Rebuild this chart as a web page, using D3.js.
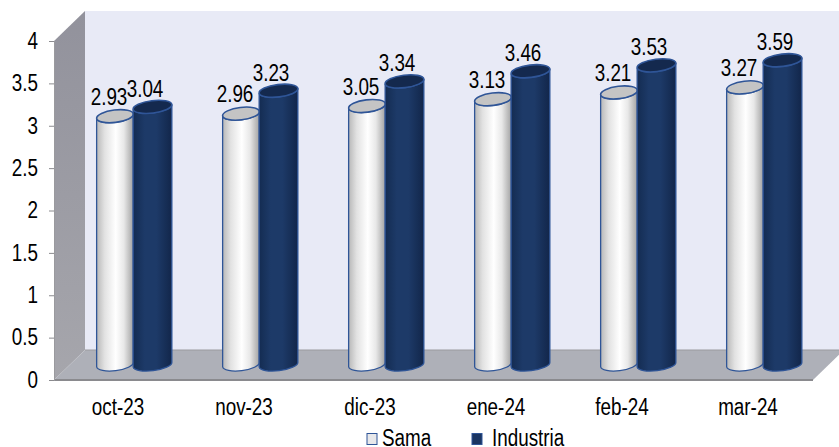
<!DOCTYPE html>
<html>
<head>
<meta charset="utf-8">
<script src="https://cdn.jsdelivr.net/npm/d3@7"></script>
<style>
  html, body { margin: 0; padding: 0; background: #fff; overflow: hidden; }
  text { font-family: "Liberation Sans", sans-serif; fill: #000; }
</style>
</head>
<body>
<svg width="839" height="447"></svg>
<script>
const categories = ["oct-23", "nov-23", "dic-23", "ene-24", "feb-24", "mar-24"];
const sama = [2.93, 2.96, 3.05, 3.13, 3.21, 3.27];
const industria = [3.04, 3.23, 3.34, 3.46, 3.53, 3.59];
const yTicks = [0, 0.5, 1, 1.5, 2, 2.5, 3, 3.5, 4];
const seriesNames = ["Sama", "Industria"];

const svg = d3.select("svg");

// front plane of the 3d box
const y = d3.scaleLinear().domain([0, 4]).range([380, 41]);
const x = d3.scaleBand().domain(categories).range([55, 811]);
const depthX = 31, depthY = -30;
const barShiftX = 15.5, barShiftY = -15.5;
const ry = 6.2, tilt = -7;

// no narrow font installed, so squeeze the text sideways
const fontSize = "23px", squeeze = 0.82;

const defs = svg.append("defs");

function hGrad(id, stops) {
  const g = defs.append("linearGradient").attr("id", id)
    .attr("x1", "0%").attr("x2", "100%").attr("y1", "0%").attr("y2", "0%");
  stops.forEach(s => g.append("stop").attr("offset", s[0]).attr("stop-color", s[1]));
}
hGrad("gSama", [["0%", "#b8b8b8"], ["22%", "#e2e2e2"], ["52%", "#ffffff"], ["74%", "#e8e8e8"], ["100%", "#a2a2a2"]]);
hGrad("gInd", [["0%", "#142c52"], ["30%", "#1d3a68"], ["60%", "#1d3a68"], ["100%", "#12264a"]]);

const wallGrad = defs.append("linearGradient").attr("id", "gWall")
  .attr("x1", "0%").attr("x2", "0%").attr("y1", "0%").attr("y2", "100%");
wallGrad.append("stop").attr("offset", "0%").attr("stop-color", "#92929c");
wallGrad.append("stop").attr("offset", "100%").attr("stop-color", "#a6a6ac");

const x0 = 54, x1 = 813, y0 = y(0), yT = y(4);

// back wall
svg.append("rect")
  .attr("x", x0 + depthX).attr("y", yT + depthY)
  .attr("width", 839 - x0 - depthX).attr("height", y0 - yT)
  .attr("fill", "#e8eaf6");

// left wall
svg.append("path")
  .attr("d", `M${x0},${yT}L${x0 + depthX},${yT + depthY}L${x0 + depthX},${y0 + depthY}L${x0},${y0}Z`)
  .attr("fill", "url(#gWall)");

// floor
svg.append("path")
  .attr("d", `M${x0},${y0}L${x0 + depthX},${y0 + depthY}L${x1 + depthX},${y0 + depthY}L${x1},${y0}Z`)
  .attr("fill", "#aeb0b8");
svg.append("line")
  .attr("x1", x0 + depthX).attr("x2", 839)
  .attr("y1", y0 + depthY).attr("y2", y0 + depthY)
  .attr("stroke", "#9a9a9e").attr("stroke-width", 1);
svg.append("line")
  .attr("x1", x0).attr("x2", x1)
  .attr("y1", y0).attr("y2", y0)
  .attr("stroke", "#8a8a8e").attr("stroke-width", 2);

// axes
const yAxis = d3.axisLeft(y).tickValues(yTicks).tickSize(5).tickPadding(14.5).tickFormat(d3.format("~g"));
const yG = svg.append("g").attr("transform", `translate(${x0},0)`).call(yAxis);
yG.select(".domain").attr("stroke", "#9a9a9e");
yG.selectAll(".tick line").attr("stroke", "#8a8a8e");
yG.selectAll("text").style("font-size", fontSize).attr("fill", "#000")
  .attr("transform", `scale(${squeeze},1)`);

const xAxis = d3.axisBottom(x).tickSize(0).tickPadding(19);
const xG = svg.append("g").attr("transform", `translate(0,${y0})`).call(xAxis);
xG.select(".domain").remove();
xG.selectAll("text").style("font-size", fontSize).attr("fill", "#000")
  .attr("transform", `scale(${squeeze},1)`);

// cylinders
function cylinder(cx, value, barW, fillBody, fillTop) {
  const rad = tilt * Math.PI / 180;
  const dx = Math.cos(rad) * barW / 2, dy = Math.sin(rad) * barW / 2;
  const topY = y(value) + barShiftY;
  const botY = y(0) + barShiftY;
  const g = svg.append("g");
  g.append("path")
    .attr("d", `M${cx - dx},${topY - dy}L${cx - dx},${botY - dy}` +
      `A${barW / 2},${ry} ${tilt} 0 0 ${cx + dx},${botY + dy}` +
      `L${cx + dx},${topY + dy}` +
      `A${barW / 2},${ry} ${tilt} 0 1 ${cx - dx},${topY - dy}Z`)
    .attr("fill", fillBody)
    .attr("stroke", "#2f5597").attr("stroke-width", 1.3);
  g.append("ellipse")
    .attr("cx", cx).attr("cy", topY)
    .attr("rx", barW / 2).attr("ry", ry)
    .attr("transform", `rotate(${tilt} ${cx} ${topY})`)
    .attr("fill", fillTop)
    .attr("stroke", "#2f5597").attr("stroke-width", 1.6);
}

categories.forEach((c, i) => {
  const mid = x(c) + x.bandwidth() / 2 + barShiftX;
  cylinder(mid - 18.5, sama[i], 37, "url(#gSama)", "#c4c4c4");
  cylinder(mid + 19, industria[i], 39, "url(#gInd)", "#14294e");
});

// value labels
function valueLabel(px, py, v) {
  svg.append("text")
    .attr("transform", `translate(${px},${py}) scale(${squeeze},1)`)
    .attr("text-anchor", "middle").style("font-size", fontSize)
    .text(d3.format(".2f")(v));
}
categories.forEach((c, i) => {
  const mid = x(c) + x.bandwidth() / 2 + barShiftX;
  valueLabel(mid - 24.5, y(sama[i]) + barShiftY - 11.5, sama[i]);
  valueLabel(mid + 11.5, y(industria[i]) + barShiftY - 10, industria[i]);
});

// legend
const legendX = [367, 472], legendText = [382, 492];
seriesNames.forEach((name, i) => {
  svg.append("rect").attr("x", legendX[i]).attr("y", 433.5).attr("width", 10).attr("height", 11)
    .attr("fill", i == 0 ? "#e8e8ea" : "#1a3562")
    .attr("stroke", "#2f5597").attr("stroke-width", 1);
  svg.append("text")
    .attr("transform", `translate(${legendText[i]},446) scale(${squeeze},1)`)
    .style("font-size", fontSize).text(name);
});
</script>
</body>
</html>
